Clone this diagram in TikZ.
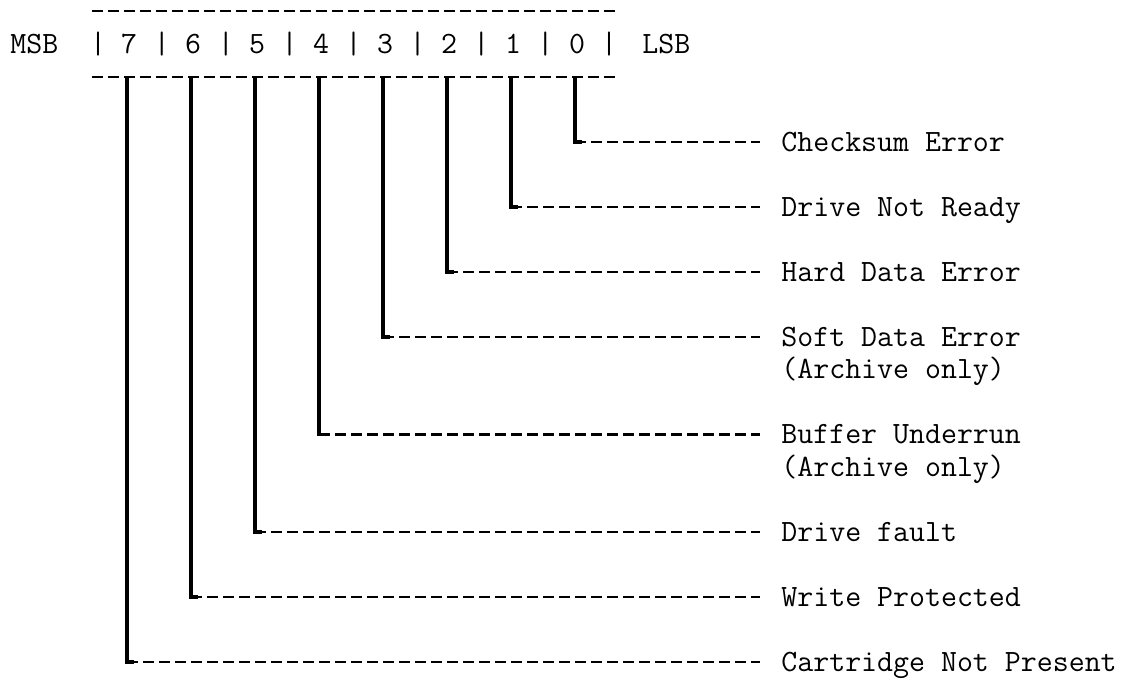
\documentclass[tikz,border=0pt]{standalone}
\usepackage{fontspec}
\usepackage{tikz}
\usetikzlibrary{positioning}

\begin{document}
\begin{tikzpicture}[x=0.5pt,y=-0.5pt,
    bit/.style={font=\ttfamily\fontsize{15.5}{16}\selectfont\addfontfeatures{FakeBold=1.2},
        inner sep=0pt, text height=9.4pt, text depth=0pt},
    lbl/.style={bit, anchor=west, inner xsep=10.5pt},
    stem/.style={line width=1.9pt, line join=miter},
    lead/.style={line width=1.1pt, dash pattern=on 5.5pt off 2.5pt},
    rule/.style={line width=1.2pt, dash pattern=on 5.5pt off 2.5pt}]
    \useasboundingbox (0,0) rectangle (1128,679);

    \node[bit, anchor=west] (msb) at (10,44) {MSB};
    \node[bit, anchor=west] (lsb) at (642,44) {LSB};
    \foreach \k in {0,...,8}
        \node[bit] (s\k) at ({98+63.9*\k},44) {|};
    \foreach \b in {0,...,7}
        \node[bit] (b\b) at ({129+64*(7-\b)},44) {\b};

    \coordinate (tl) at (92,11);
    \coordinate (tr) at (618,11);
    \coordinate (bl) at (92,77);
    \coordinate (br) at (618,77);
    \draw[rule] (tl) -- (tr);
    \draw[rule] (bl) -- (br);

    \foreach \b/\yy/\t in {0/142/Checksum Error, 1/207/Drive Not Ready,
        2/272/Hard Data Error, 3/337/Soft Data Error, 4/434.5/Buffer Underrun,
        5/532/Drive fault, 6/597/Write Protected, 7/662/Cartridge Not Present}
        \node[lbl] (l\b) at (760,\yy) {\t};
    \node[lbl] (l3x) at (760,369.5) {(Archive only)};
    \node[lbl] (l4x) at (760,467) {(Archive only)};

    \foreach \b in {0,...,7} {
        \coordinate (c\b) at ([xshift=-1pt]b\b |- l\b.west);
        \draw[stem] ([xshift=-1pt]b\b |- bl) -- (c\b) -- ++(7,0);
        \draw[lead] (c\b) -- (l\b.west);
    }
\end{tikzpicture}
\end{document}
